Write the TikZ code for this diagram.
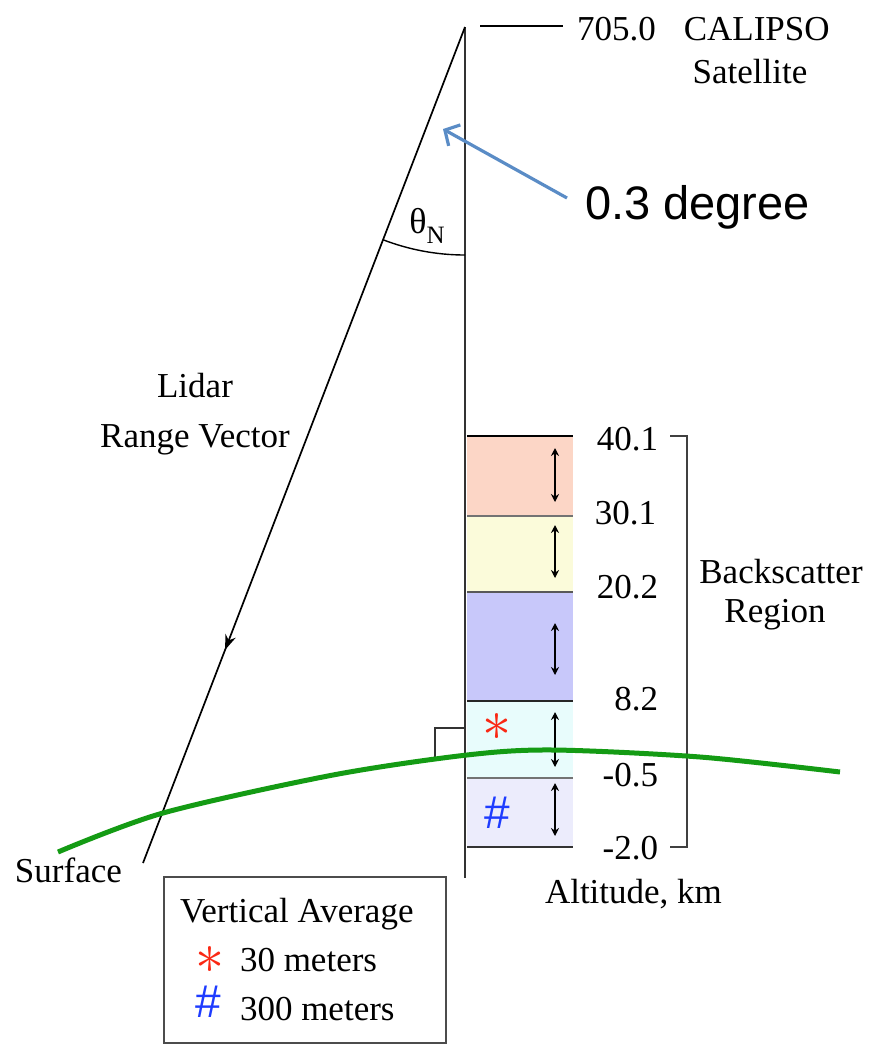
\documentclass[tikz,border=0pt]{standalone}
\usepackage{fontspec}
\setmainfont{Liberation Serif}
\newfontfamily\arialf{Liberation Sans}
\usetikzlibrary{arrows.meta,decorations.markings}
\definecolor{bandA}{RGB}{252,214,198}
\definecolor{bandB}{RGB}{251,251,218}
\definecolor{bandC}{RGB}{200,200,250}
\definecolor{bandD}{RGB}{232,252,252}
\definecolor{bandE}{RGB}{236,236,252}
\definecolor{earth}{RGB}{20,155,20}
\definecolor{callout}{RGB}{90,140,198}
\definecolor{astred}{RGB}{250,40,20}
\definecolor{hashblue}{RGB}{30,60,255}
\newcommand{\bigast}{\scalebox{5.8}{$\ast$}}
\begin{document}
\begin{tikzpicture}[x=1pt,y=1pt,
  every node/.style={inner sep=0pt, outer sep=0pt},
  txt/.style={font=\fontsize{35}{40}\selectfont},
  axisline/.style={draw=black!80, line width=1.7pt},
  beamline/.style={draw=black, line width=1.7pt},
  bandline/.style={line width=1.6pt},
  levelarrow/.style={{Stealth[length=8pt,width=8pt]}-{Stealth[length=8pt,width=8pt]}, line width=1.4pt},
  bracketline/.style={draw=black!75, line width=1.6pt},
  calloutarrow/.style={draw=callout, line width=3.2pt, -{Straight Barb[length=11pt,width=24pt]}},
  midarrow/.style={decoration={markings, mark=at position 0.745 with {\arrow{Stealth[length=15pt,width=11pt]}}}, postaction={decorate}}
]
\useasboundingbox (0,0) rectangle (873,-1045);

% bands
\fill[bandA] (467,-436) rectangle (573,-516);
\fill[bandB] (467,-516) rectangle (573,-592);
\fill[bandC] (467,-592) rectangle (573,-701);
\fill[bandD] (467,-701) rectangle (573,-778);
\fill[bandE] (467,-778) rectangle (573,-847);
\draw[bandline, black] (467,-436) -- (573,-436);
\draw[bandline, black!55] (467,-516) -- (573,-516);
\draw[bandline, black!65] (467,-592) -- (573,-592);
\draw[bandline, black!85] (467,-701) -- (573,-701);
\draw[bandline, black!55] (467,-778) -- (573,-778);
\draw[bandline, black!80] (467,-847) -- (573,-847);

% level arrows
\coordinate (a1t) at (555,-448); \coordinate (a1b) at (555,-502);
\coordinate (a2t) at (555,-525); \coordinate (a2b) at (555,-578);
\coordinate (a3t) at (555,-623); \coordinate (a3b) at (555,-675);
\coordinate (a4t) at (555,-712); \coordinate (a4b) at (555,-767);
\coordinate (a5t) at (555,-783); \coordinate (a5b) at (555,-836);
\draw[levelarrow] (a1t) -- (a1b);
\draw[levelarrow] (a2t) -- (a2b);
\draw[levelarrow] (a3t) -- (a3b);
\draw[levelarrow] (a4t) -- (a4b);
\draw[levelarrow] (a5t) -- (a5b);

% band symbols
\node[text=astred] (bast) at (497,-727) {\bigast};
\node[text=hashblue, font=\arialf\fontsize{46}{46}\selectfont] (bhash) at (497,-813) {\#};

% satellite, axis, beam
\coordinate (sat) at (465,-27);
\coordinate (vbot) at (465,-878);
\coordinate (beamend) at (143,-863);
\draw[axisline] (sat) -- (vbot);
\draw[beamline, midarrow] (sat) -- (beamend);
\coordinate (arcstart) at (465,-255);
\draw[line width=1.4pt] (arcstart) arc[start angle=270, end angle=248.93, radius=228];
\node[font=\fontsize{36}{36}\selectfont, anchor=base] (theta) at (427,-233)
  {θ\raisebox{-0.3em}{\fontsize{25}{25}\selectfont N}};

% top tick + labels
\coordinate (tickL) at (480,-26);
\coordinate (tickR) at (563,-26);
\draw[line width=1.5pt] (tickL) -- (tickR);
\node[txt, anchor=base west] (calipso) at (577,-40) {705.0\hspace{0.8em}CALIPSO};
\node[txt, anchor=base] (satlabel) at (750,-83) {Satellite};

% callout
\node[font=\arialf\fontsize{47}{47}\selectfont, anchor=base west] (deg) at (585,-219) {0.3 degree};
\coordinate (calloutstart) at (567,-198);
\coordinate (callouttip) at (443,-129);
\draw[calloutarrow] (calloutstart) -- (callouttip);

% lidar label
\node[txt, anchor=base] (lidar) at (195,-397) {Lidar};
\node[txt, anchor=base] (range) at (195,-447) {Range Vector};

% altitude numbers
\node[txt, anchor=east] (n40) at (658,-439) {40.1};
\node[txt, anchor=east] (n30) at (656,-513) {30.1};
\node[txt, anchor=east] (n20) at (658,-587) {20.2};
\node[txt, anchor=east] (n8) at (658,-699) {8.2};
\node[txt, anchor=east] (n05) at (658,-775) {-0.5};
\node[txt, anchor=east] (n2) at (658,-848) {-2.0};

% bracket
\coordinate (brTL) at (670,-436);
\coordinate (brTR) at (687,-436);
\coordinate (brBR) at (687,-847);
\coordinate (brBL) at (670,-847);
\draw[bracketline] (brTL) -- (brTR) -- (brBR) -- (brBL);
\node[txt, anchor=base] (back) at (781,-583) {Backscatter};
\node[txt, anchor=base] (region) at (775,-622) {Region};

\node[txt, anchor=base west] (alt) at (545,-903) {Altitude, km};

% right angle mark
\coordinate (raA) at (465,-728);
\coordinate (raB) at (435,-728);
\coordinate (raC) at (435,-757);
\draw[line width=1.4pt, black!80] (raA) -- (raB) -- (raC);

% earth surface
\draw[earth, line width=5pt] plot[smooth] coordinates {(58,-852) (163,-813) (333,-775) (467,-755) (553,-750) (700,-757) (840,-772)};
\node[txt, anchor=base west] (surface) at (15,-882) {Surface};

% legend
\node[draw=black!70, line width=1.8pt, minimum width=282pt, minimum height=166pt, anchor=north west] (legend) at (164,-877) {};
\node[txt, anchor=base west] (lgtitle) at (180,-922) {Vertical Average};
\node[text=astred] (last) at (210,-960) {\bigast};
\node[txt, anchor=base west] (l30) at (240,-971) {30 meters};
\node[text=hashblue, font=\arialf\fontsize{46}{46}\selectfont] (lhash) at (208,-1002) {\#};
\node[txt, anchor=base west] (l300) at (240,-1020) {300 meters};
\end{tikzpicture}
\end{document}
